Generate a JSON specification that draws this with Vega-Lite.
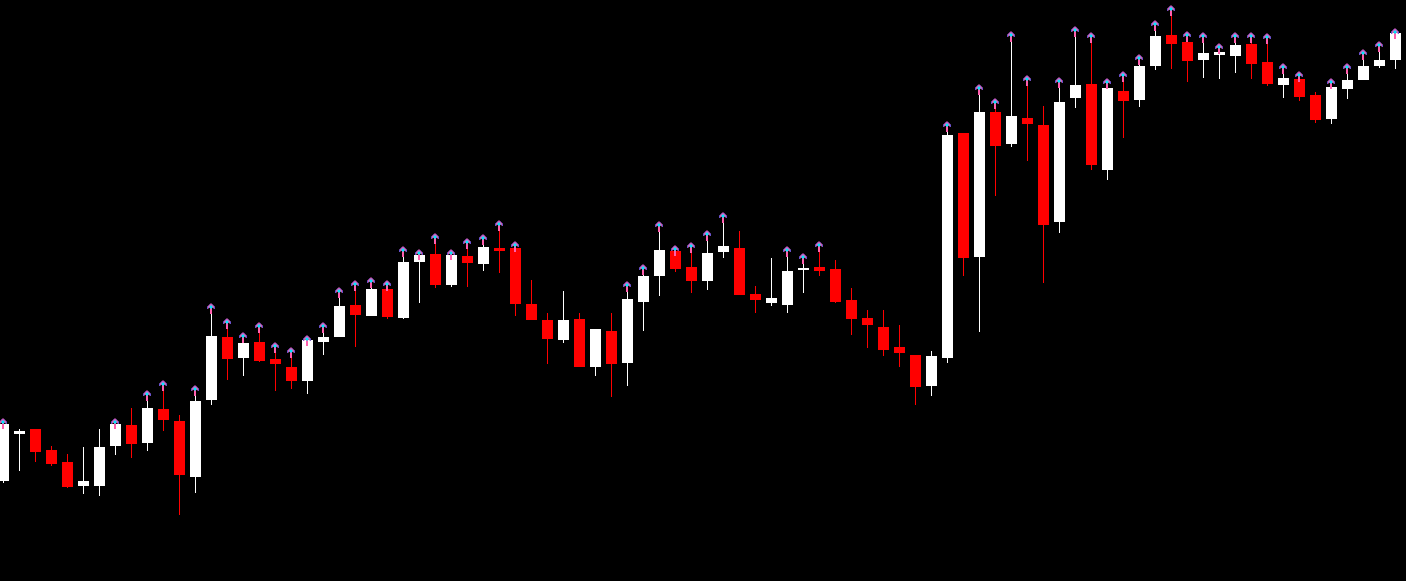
{"$schema":"https://vega.github.io/schema/vega-lite/v6.json","width":1406,"height":581,"padding":0,"autosize":"none","background":"#000000","config":{"view":{"stroke":null}},
"data":{"values":[
{"i":0,"open":100,"close":157,"high":157,"low":98,"dir":"up","signal":1},
{"i":1,"open":147,"close":150,"high":152,"low":110,"dir":"up","signal":0},
{"i":2,"open":152,"close":129,"high":152,"low":119,"dir":"down","signal":0},
{"i":3,"open":131,"close":117,"high":135,"low":115,"dir":"down","signal":0},
{"i":4,"open":119,"close":94,"high":127,"low":93,"dir":"down","signal":0},
{"i":5,"open":95,"close":100,"high":134,"low":87,"dir":"up","signal":0},
{"i":6,"open":95,"close":134,"high":152,"low":85,"dir":"up","signal":0},
{"i":7,"open":135,"close":157,"high":157,"low":126,"dir":"up","signal":1},
{"i":8,"open":156,"close":137,"high":173,"low":123,"dir":"down","signal":0},
{"i":9,"open":138,"close":173,"high":185,"low":130,"dir":"up","signal":1},
{"i":10,"open":172,"close":161,"high":195,"low":150,"dir":"down","signal":1},
{"i":11,"open":160,"close":106,"high":166,"low":66,"dir":"down","signal":0},
{"i":12,"open":104,"close":180,"high":190,"low":88,"dir":"up","signal":1},
{"i":13,"open":181,"close":245,"high":272,"low":176,"dir":"up","signal":1},
{"i":14,"open":244,"close":222,"high":257,"low":201,"dir":"down","signal":1},
{"i":15,"open":223,"close":238,"high":243,"low":205,"dir":"up","signal":1},
{"i":16,"open":239,"close":220,"high":253,"low":219,"dir":"down","signal":1},
{"i":17,"open":222,"close":217,"high":233,"low":190,"dir":"down","signal":1},
{"i":18,"open":214,"close":200,"high":228,"low":192,"dir":"down","signal":1},
{"i":19,"open":200,"close":241,"high":240,"low":187,"dir":"up","signal":1},
{"i":20,"open":239,"close":244,"high":253,"low":226,"dir":"up","signal":1},
{"i":21,"open":244,"close":275,"high":288,"low":244,"dir":"up","signal":1},
{"i":22,"open":276,"close":266,"high":295,"low":234,"dir":"down","signal":1},
{"i":23,"open":265,"close":292,"high":298,"low":265,"dir":"up","signal":1},
{"i":24,"open":292,"close":264,"high":295,"low":262,"dir":"down","signal":1},
{"i":25,"open":263,"close":319,"high":329,"low":262,"dir":"up","signal":1},
{"i":26,"open":319,"close":326,"high":326,"low":278,"dir":"up","signal":1},
{"i":27,"open":327,"close":296,"high":342,"low":293,"dir":"down","signal":1},
{"i":28,"open":296,"close":326,"high":326,"low":294,"dir":"up","signal":1},
{"i":29,"open":325,"close":318,"high":337,"low":294,"dir":"down","signal":1},
{"i":30,"open":317,"close":334,"high":341,"low":310,"dir":"up","signal":1},
{"i":31,"open":333,"close":330,"high":355,"low":308,"dir":"down","signal":1},
{"i":32,"open":333,"close":277,"high":334,"low":265,"dir":"down","signal":1},
{"i":33,"open":277,"close":261,"high":301,"low":261,"dir":"down","signal":0},
{"i":34,"open":261,"close":242,"high":268,"low":217,"dir":"down","signal":0},
{"i":35,"open":241,"close":261,"high":290,"low":238,"dir":"up","signal":0},
{"i":36,"open":262,"close":214,"high":268,"low":214,"dir":"down","signal":0},
{"i":37,"open":214,"close":252,"high":252,"low":205,"dir":"up","signal":0},
{"i":38,"open":250,"close":217,"high":268,"low":184,"dir":"down","signal":0},
{"i":39,"open":218,"close":282,"high":294,"low":195,"dir":"up","signal":1},
{"i":40,"open":279,"close":305,"high":311,"low":250,"dir":"up","signal":1},
{"i":41,"open":305,"close":331,"high":354,"low":285,"dir":"up","signal":1},
{"i":42,"open":330,"close":312,"high":330,"low":309,"dir":"down","signal":1},
{"i":43,"open":314,"close":300,"high":333,"low":288,"dir":"down","signal":1},
{"i":44,"open":300,"close":328,"high":345,"low":291,"dir":"up","signal":1},
{"i":45,"open":329,"close":335,"high":363,"low":323,"dir":"up","signal":1},
{"i":46,"open":333,"close":286,"high":350,"low":286,"dir":"down","signal":0},
{"i":47,"open":287,"close":281,"high":295,"low":268,"dir":"down","signal":0},
{"i":48,"open":278,"close":283,"high":323,"low":275,"dir":"up","signal":0},
{"i":49,"open":276,"close":310,"high":329,"low":268,"dir":"up","signal":1},
{"i":50,"open":311,"close":313,"high":322,"low":288,"dir":"up","signal":1},
{"i":51,"open":314,"close":310,"high":334,"low":305,"dir":"down","signal":1},
{"i":52,"open":312,"close":279,"high":321,"low":278,"dir":"down","signal":0},
{"i":53,"open":281,"close":262,"high":293,"low":246,"dir":"down","signal":0},
{"i":54,"open":263,"close":256,"high":271,"low":233,"dir":"down","signal":0},
{"i":55,"open":254,"close":231,"high":271,"low":225,"dir":"down","signal":0},
{"i":56,"open":234,"close":228,"high":256,"low":214,"dir":"down","signal":0},
{"i":57,"open":226,"close":194,"high":226,"low":176,"dir":"down","signal":0},
{"i":58,"open":195,"close":225,"high":230,"low":185,"dir":"up","signal":0},
{"i":59,"open":223,"close":446,"high":454,"low":218,"dir":"up","signal":1},
{"i":60,"open":448,"close":323,"high":448,"low":305,"dir":"down","signal":0},
{"i":61,"open":324,"close":469,"high":491,"low":249,"dir":"up","signal":1},
{"i":62,"open":469,"close":435,"high":477,"low":385,"dir":"down","signal":1},
{"i":63,"open":437,"close":465,"high":544,"low":434,"dir":"up","signal":1},
{"i":64,"open":463,"close":457,"high":500,"low":420,"dir":"down","signal":1},
{"i":65,"open":456,"close":356,"high":475,"low":298,"dir":"down","signal":0},
{"i":66,"open":359,"close":479,"high":498,"low":348,"dir":"up","signal":1},
{"i":67,"open":483,"close":496,"high":549,"low":473,"dir":"up","signal":1},
{"i":68,"open":497,"close":416,"high":543,"low":411,"dir":"down","signal":1},
{"i":69,"open":411,"close":493,"high":497,"low":401,"dir":"up","signal":1},
{"i":70,"open":490,"close":480,"high":504,"low":443,"dir":"down","signal":1},
{"i":71,"open":481,"close":515,"high":521,"low":474,"dir":"up","signal":1},
{"i":72,"open":515,"close":545,"high":555,"low":511,"dir":"up","signal":1},
{"i":73,"open":546,"close":537,"high":570,"low":512,"dir":"down","signal":1},
{"i":74,"open":539,"close":520,"high":544,"low":499,"dir":"down","signal":1},
{"i":75,"open":521,"close":528,"high":543,"low":503,"dir":"up","signal":1},
{"i":76,"open":526,"close":529,"high":532,"low":502,"dir":"up","signal":1},
{"i":77,"open":525,"close":536,"high":543,"low":508,"dir":"up","signal":1},
{"i":78,"open":537,"close":517,"high":543,"low":502,"dir":"down","signal":1},
{"i":79,"open":519,"close":497,"high":542,"low":495,"dir":"down","signal":1},
{"i":80,"open":496,"close":503,"high":512,"low":483,"dir":"up","signal":1},
{"i":81,"open":502,"close":484,"high":504,"low":480,"dir":"down","signal":1},
{"i":82,"open":486,"close":461,"high":489,"low":458,"dir":"down","signal":0},
{"i":83,"open":462,"close":494,"high":497,"low":457,"dir":"up","signal":1},
{"i":84,"open":492,"close":501,"high":512,"low":482,"dir":"up","signal":1},
{"i":85,"open":501,"close":515,"high":526,"low":501,"dir":"up","signal":1},
{"i":86,"open":515,"close":521,"high":534,"low":513,"dir":"up","signal":1},
{"i":87,"open":521,"close":548,"high":547,"low":512,"dir":"up","signal":1}
]},
"encoding":{
"x":{"field":"i","type":"quantitative","axis":null,"scale":{"domain":[-0.21875,87.65625],"nice":false,"zero":false,"padding":0}},
"y":{"type":"quantitative","axis":null,"scale":{"domain":[0,581],"nice":false,"zero":false}}
},
"layer":[
{"mark":{"type":"rule","strokeWidth":1},"encoding":{"y":{"field":"low","type":"quantitative"},"y2":{"field":"high"},"color":{"field":"dir","type":"nominal","legend":null,"scale":{"domain":["up","down"],"range":["#ffffff","#ff0000"]}}}},
{"mark":{"type":"bar","size":11,"orient":"vertical"},"encoding":{"y":{"field":"open","type":"quantitative"},"y2":{"field":"close"},"color":{"field":"dir","type":"nominal","legend":null}}},
{"transform":[{"filter":"datum.signal==1"}],"mark":{"type":"point","filled":true,"opacity":1,"size":4,"color":"#ff5fae","shape":"M-1 -5.5L0 -5.5L3.5 -2L3.5 -0.2L2.2 -0.2L1.5 -1.5L0.5 -1L0.5 5L-1.5 5L-1.5 -1L-2.5 -1.5L-3.2 -0.2L-4.5 -0.2L-4.5 -2Z"},"encoding":{"y":{"field":"high","type":"quantitative"}}},
{"transform":[{"filter":"datum.signal==1"}],"mark":{"type":"point","filled":true,"opacity":1,"size":4,"color":"#5a55d8","shape":"M-1 -5.5L-4.5 -2L-4.5 -0.2L-3.4 -0.2L-3.4 -2.6L-1 -4.6ZM0 -5.5L3.5 -2L3.5 -0.2L2.4 -0.2L2.4 -2.6L0 -4.6Z"},"encoding":{"y":{"field":"high","type":"quantitative"}}},
{"transform":[{"filter":"datum.signal==1"}],"mark":{"type":"point","filled":true,"opacity":1,"size":4,"color":"#00e5ff","shape":"M-0.5 -4L1.5 -2L-0.5 0L-2.5 -2Z"},"encoding":{"y":{"field":"high","type":"quantitative"}}}
]}
